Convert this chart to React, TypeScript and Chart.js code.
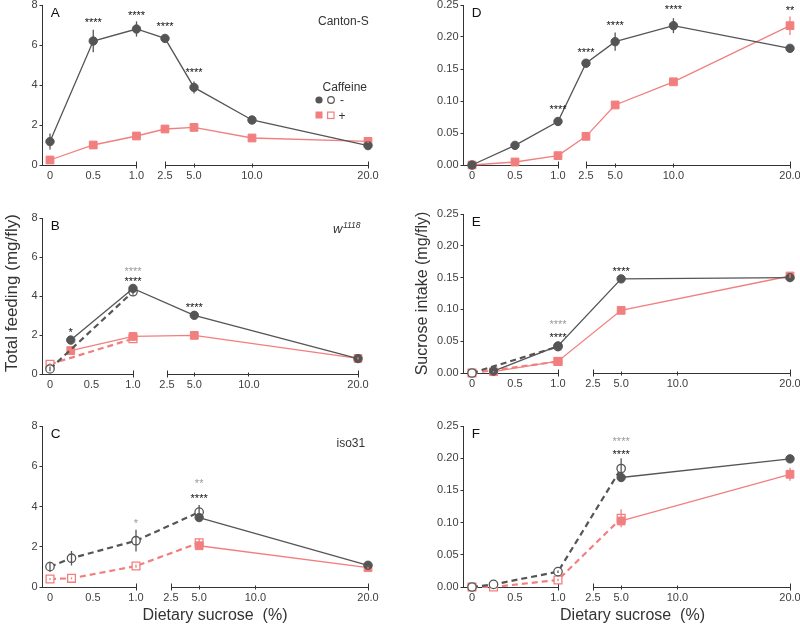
import React, { useEffect, useRef } from "react";
import { Chart, registerables, LinearScale } from "chart.js";

Chart.register(...registerables);

const FONT = '"Liberation Sans", Arial, Helvetica, sans-serif';
const DARK = "#555555";
const PINK = "#f27f7f";
const AXIS = "#333333";
const LABEL = "#404040";

// ---------- axes ----------
const X_TICKS = [0, 0.5, 1, 2.5, 5, 10, 20];
const X_LEFT_END = 1;
const X_RIGHT_START = 2.5;
const X_RIGHT_END = 20;
const FEED_TICKS = [0, 2, 4, 6, 8];
const INTAKE_TICKS = [0, 0.05, 0.1, 0.15, 0.2, 0.25];

// ---------- Panel A : Canton-S, total feeding ----------
const A_X = [0, 0.5, 1, 2.5, 5, 10, 20];
const A_NOCAF = [1.17, 6.2, 6.8, 6.33, 3.88, 2.25, 0.97];
const A_NOCAF_ERR = [0.4, 0.56, 0.38, 0.15, 0.3, 0.06, 0.06];
const A_CAF = [0.25, 1.0, 1.45, 1.8, 1.88, 1.35, 1.18];
const A_CAF_ERR = [0.05, 0.06, 0.08, 0.08, 0.08, 0.06, 0.08];
const A_SIG_X = [0.5, 1, 2.5, 5];
const A_SIG_Y = [7.25, 7.63, 7.08, 4.75];
const A_SIG_TXT = ["****", "****", "****", "****"];
const A_SIG_GREY = [false, false, false, false];

// ---------- Panel D : Canton-S, sucrose intake ----------
const D_X = [0, 0.5, 1, 2.5, 5, 10, 20];
const D_NOCAF = [0, 0.0307, 0.068, 0.159, 0.1927, 0.2177, 0.1823];
const D_NOCAF_ERR = [0, 0.002, 0.003, 0.004, 0.0143, 0.0117, 0.005];
const D_CAF = [0, 0.0047, 0.0146, 0.0448, 0.0938, 0.13, 0.2177];
const D_CAF_ERR = [0, 0.001, 0.002, 0.003, 0.004, 0.003, 0.0145];
const D_SIG_X = [1, 2.5, 5, 10, 20];
const D_SIG_Y = [0.0911, 0.181, 0.2225, 0.247, 0.246];
const D_SIG_TXT = ["****", "****", "****", "****", "**"];
const D_SIG_GREY = [false, false, false, false, false];

// ---------- Panel B : w1118, total feeding ----------
const B_SOLID_X = [0.25, 1, 5, 20];
const B_NOCAF = [1.74, 4.39, 3.01, 0.79];
const B_NOCAF_ERR = [0.1, 0.12, 0.08, 0.06];
const B_CAF = [1.2, 1.93, 1.98, 0.8];
const B_CAF_ERR = [0.08, 0.1, 0.08, 0.06];
const B_DASH_X = [0, 1];
const B_NOCAF_DASH = [0.26, 4.22];
const B_NOCAF_DASH_ERR = [0.12, 0.15];
const B_CAF_DASH = [0.5, 1.81];
const B_CAF_DASH_ERR = [0.08, 0.1];
const B_SIG_X = [0.25, 1, 1, 5];
const B_SIG_Y = [2.29, 4.87, 5.42, 3.54];
const B_SIG_TXT = ["*", "****", "****", "****"];
const B_SIG_GREY = [false, false, true, false];

// ---------- Panel E : w1118, sucrose intake ----------
const E_SOLID_X = [0.25, 1, 5, 20];
const E_NOCAF = [0.003, 0.0425, 0.148, 0.15];
const E_NOCAF_ERR = [0.001, 0.003, 0.003, 0.003];
const E_CAF = [0.002, 0.0185, 0.0985, 0.1525];
const E_CAF_ERR = [0.001, 0.002, 0.003, 0.003];
const E_DASH_X = [0, 1];
const E_NOCAF_DASH = [0, 0.0415];
const E_NOCAF_DASH_ERR = [0, 0.003];
const E_CAF_DASH = [0, 0.018];
const E_CAF_DASH_ERR = [0, 0.002];
const E_SIG_X = [1, 1, 5];
const E_SIG_Y = [0.0807, 0.0608, 0.1646];
const E_SIG_TXT = ["****", "****", "****"];
const E_SIG_GREY = [true, false, false];

// ---------- Panel C : iso31, total feeding ----------
const C_DASH_X = [0, 0.25, 1, 5];
const C_NOCAF_DASH = [1.01, 1.43, 2.3, 3.72];
const C_NOCAF_DASH_ERR = [0.25, 0.36, 0.54, 0.35];
const C_CAF_DASH = [0.4, 0.43, 1.04, 2.2];
const C_CAF_DASH_ERR = [0.05, 0.05, 0.08, 0.2];
const C_SOLID_X = [5, 20];
const C_NOCAF = [3.45, 1.08];
const C_NOCAF_ERR = [0.1, 0.08];
const C_CAF = [2.05, 0.96];
const C_CAF_ERR = [0.1, 0.05];
const C_SIG_X = [1, 5, 5];
const C_SIG_Y = [3.28, 5.27, 4.54];
const C_SIG_TXT = ["*", "**", "****"];
const C_SIG_GREY = [true, true, false];

// ---------- Panel F : iso31, sucrose intake ----------
const F_DASH_X = [0, 0.25, 1, 5];
const F_NOCAF_DASH = [0, 0.004, 0.0238, 0.184];
const F_NOCAF_DASH_ERR = [0, 0, 0.002, 0.016];
const F_CAF_DASH = [0, 0, 0.011, 0.1066];
const F_CAF_DASH_ERR = [0, 0, 0.002, 0.014];
const F_SOLID_X = [5, 20];
const F_NOCAF = [0.17, 0.199];
const F_NOCAF_ERR = [0.006, 0.005];
const F_CAF = [0.1025, 0.175];
const F_CAF_ERR = [0.006, 0.01];
const F_SIG_X = [5, 5];
const F_SIG_Y = [0.2304, 0.2102];
const F_SIG_TXT = ["****", "****"];
const F_SIG_GREY = [true, false];

// ---------- types ----------
interface Series { x: number[]; y: number[]; err: number[]; caf: boolean; dashed: boolean }
interface Sig { x: number[]; y: number[]; txt: string[]; grey: boolean[] }
interface Panel {
  key: string;
  letter: string;
  box: { l: number; t: number; r: number; b: number };
  brk: { p0: number; p1: number; p2: number };
  yTicks: number[];
  yMax: number;
  yDigits: number;
  series: Series[];
  sig: Sig;
}

// ---------- broken x scale ----------
class BrokenScale extends LinearScale {
  static id = "broken";
  static defaults = {};
  frac() {
    const o: any = this.options;
    return { f0: o.brkF0 as number, f1: o.brkF1 as number, f2: o.brkF2 as number };
  }
  getPixelForValue(value: number): number {
    const { f0, f1, f2 } = this.frac();
    const L = this.left, W = this.width;
    if (value <= X_LEFT_END) return L + W * (f0 + (f1 - f0) * (value / X_LEFT_END));
    return L + W * (f2 + (1 - f2) * ((value - X_RIGHT_START) / (X_RIGHT_END - X_RIGHT_START)));
  }
  getValueForPixel(pixel: number): number {
    const { f0, f1, f2 } = this.frac();
    const t = (pixel - this.left) / this.width;
    if (t <= f1) return ((t - f0) / (f1 - f0)) * X_LEFT_END;
    return X_RIGHT_START + ((t - f2) / (1 - f2)) * (X_RIGHT_END - X_RIGHT_START);
  }
}
Chart.register(BrokenScale as any);

// ---------- panels ----------
const S = (x: number[], y: number[], err: number[], caf: boolean, dashed: boolean): Series => ({ x, y, err, caf, dashed });
const G = (x: number[], y: number[], txt: string[], grey: boolean[]): Sig => ({ x, y, txt, grey });

const PANELS: Panel[] = [
  {
    key: "A", letter: "A",
    box: { l: 42.5, t: 5, r: 368, b: 165 }, brk: { p0: 50, p1: 136.5, p2: 165 },
    yTicks: FEED_TICKS, yMax: 8, yDigits: 0,
    series: [S(A_X, A_NOCAF, A_NOCAF_ERR, false, false), S(A_X, A_CAF, A_CAF_ERR, true, false)],
    sig: G(A_SIG_X, A_SIG_Y, A_SIG_TXT, A_SIG_GREY),
  },
  {
    key: "B", letter: "B",
    box: { l: 42.5, t: 218, r: 358, b: 374 }, brk: { p0: 50, p1: 133, p2: 167 },
    yTicks: FEED_TICKS, yMax: 8, yDigits: 0,
    series: [
      S(B_SOLID_X, B_NOCAF, B_NOCAF_ERR, false, false),
      S(B_DASH_X, B_NOCAF_DASH, B_NOCAF_DASH_ERR, false, true),
      S(B_SOLID_X, B_CAF, B_CAF_ERR, true, false),
      S(B_DASH_X, B_CAF_DASH, B_CAF_DASH_ERR, true, true),
    ],
    sig: G(B_SIG_X, B_SIG_Y, B_SIG_TXT, B_SIG_GREY),
  },
  {
    key: "C", letter: "C",
    box: { l: 42.5, t: 426, r: 368, b: 587 }, brk: { p0: 50, p1: 136, p2: 171 },
    yTicks: FEED_TICKS, yMax: 8, yDigits: 0,
    series: [
      S(C_SOLID_X, C_NOCAF, C_NOCAF_ERR, false, false),
      S(C_DASH_X, C_NOCAF_DASH, C_NOCAF_DASH_ERR, false, true),
      S(C_SOLID_X, C_CAF, C_CAF_ERR, true, false),
      S(C_DASH_X, C_CAF_DASH, C_CAF_DASH_ERR, true, true),
    ],
    sig: G(C_SIG_X, C_SIG_Y, C_SIG_TXT, C_SIG_GREY),
  },
  {
    key: "D", letter: "D",
    box: { l: 463.5, t: 5, r: 790, b: 165 }, brk: { p0: 472, p1: 558, p2: 586 },
    yTicks: INTAKE_TICKS, yMax: 0.25, yDigits: 2,
    series: [S(D_X, D_NOCAF, D_NOCAF_ERR, false, false), S(D_X, D_CAF, D_CAF_ERR, true, false)],
    sig: G(D_SIG_X, D_SIG_Y, D_SIG_TXT, D_SIG_GREY),
  },
  {
    key: "E", letter: "E",
    box: { l: 463.5, t: 214, r: 790, b: 373 }, brk: { p0: 472, p1: 558, p2: 593 },
    yTicks: INTAKE_TICKS, yMax: 0.25, yDigits: 2,
    series: [
      S(E_SOLID_X, E_NOCAF, E_NOCAF_ERR, false, false),
      S(E_DASH_X, E_NOCAF_DASH, E_NOCAF_DASH_ERR, false, true),
      S(E_SOLID_X, E_CAF, E_CAF_ERR, true, false),
      S(E_DASH_X, E_CAF_DASH, E_CAF_DASH_ERR, true, true),
    ],
    sig: G(E_SIG_X, E_SIG_Y, E_SIG_TXT, E_SIG_GREY),
  },
  {
    key: "F", letter: "F",
    box: { l: 463.5, t: 426, r: 790, b: 587 }, brk: { p0: 472, p1: 558, p2: 593 },
    yTicks: INTAKE_TICKS, yMax: 0.25, yDigits: 2,
    series: [
      S(F_SOLID_X, F_NOCAF, F_NOCAF_ERR, false, false),
      S(F_DASH_X, F_NOCAF_DASH, F_NOCAF_DASH_ERR, false, true),
      S(F_SOLID_X, F_CAF, F_CAF_ERR, true, false),
      S(F_DASH_X, F_CAF_DASH, F_CAF_DASH_ERR, true, true),
    ],
    sig: G(F_SIG_X, F_SIG_Y, F_SIG_TXT, F_SIG_GREY),
  },
];

const W = 800;
const H = 626;

function text(ctx: CanvasRenderingContext2D, s: string, x: number, y: number, size: number, color: string, align: CanvasTextAlign = "left", style = "") {
  ctx.save();
  ctx.font = `${style} ${size}px ${FONT}`;
  ctx.fillStyle = color;
  ctx.textAlign = align;
  ctx.textBaseline = "alphabetic";
  ctx.fillText(s, x, y);
  ctx.restore();
}

function drawExtras(key: string, ctx: CanvasRenderingContext2D) {
  if (key === "A") {
    text(ctx, "Canton-S", 318, 25, 12, AXIS);
    text(ctx, "Caffeine", 322.5, 91, 12, AXIS);
    ctx.save();
    ctx.fillStyle = DARK;
    ctx.strokeStyle = DARK;
    ctx.lineWidth = 1.2;
    ctx.beginPath(); ctx.arc(319, 100, 3.6, 0, Math.PI * 2); ctx.fill();
    ctx.beginPath(); ctx.arc(331, 100, 3.3, 0, Math.PI * 2); ctx.stroke();
    ctx.fillStyle = PINK;
    ctx.strokeStyle = PINK;
    ctx.fillRect(315.5, 111.5, 7, 7);
    ctx.strokeRect(327.6, 112.1, 6.4, 6.4);
    ctx.restore();
    text(ctx, "-", 340, 104, 12, AXIS);
    text(ctx, "+", 338.5, 119.5, 12, AXIS);
  }
  if (key === "B") {
    ctx.save();
    ctx.font = `italic 13px ${FONT}`;
    const w = ctx.measureText("w").width;
    ctx.restore();
    text(ctx, "w", 333, 232.5, 13, AXIS, "left", "italic");
    text(ctx, "1118", 333 + w + 0.5, 227.5, 8.5, AXIS, "left", "italic");
    ctx.save();
    ctx.translate(16.5, 293);
    ctx.rotate(-Math.PI / 2);
    text(ctx, "Total feeding (mg/fly)", 0, 0, 17, AXIS, "center");
    ctx.restore();
  }
  if (key === "C") {
    text(ctx, "iso31", 336.5, 447, 12, AXIS);
    text(ctx, "Dietary sucrose  (%)", 215, 620, 16, AXIS, "center");
  }
  if (key === "E") {
    ctx.save();
    ctx.translate(427, 293.5);
    ctx.rotate(-Math.PI / 2);
    text(ctx, "Sucrose intake (mg/fly)", 0, 0, 16, AXIS, "center");
    ctx.restore();
  }
  if (key === "F") {
    text(ctx, "Dietary sucrose  (%)", 632.5, 620, 16, AXIS, "center");
  }
}

function makePlugin(p: Panel) {
  return {
    id: "deco" + p.key,
    beforeDatasetsDraw(chart: any) {
      const ctx: CanvasRenderingContext2D = chart.ctx;
      const xs = chart.scales.x;
      const ys = chart.scales.y;
      const yb = Math.round(ys.getPixelForValue(0) - 0.5) + 0.5;
      const pL = xs.getPixelForValue(X_LEFT_END);
      const pR0 = xs.getPixelForValue(X_RIGHT_START);
      const pR1 = xs.getPixelForValue(X_RIGHT_END);
      ctx.save();
      ctx.strokeStyle = AXIS;
      ctx.lineWidth = 1;
      ctx.beginPath();
      ctx.moveTo(chart.chartArea.left, yb);
      ctx.lineTo(pL, yb);
      ctx.moveTo(pR0, yb);
      ctx.lineTo(pR1, yb);
      [pL, pR0, pR1].forEach((px) => {
        const ax = Math.round(px - 0.5) + 0.5;
        ctx.moveTo(ax, yb - 4);
        ctx.lineTo(ax, yb + 3);
      });
      X_TICKS.filter((v) => v > X_RIGHT_START && v < X_RIGHT_END).forEach((v) => {
        const ax = Math.round(xs.getPixelForValue(v) - 0.5) + 0.5;
        ctx.moveTo(ax, yb - 2);
        ctx.lineTo(ax, yb + 2);
      });
      ctx.stroke();
      ctx.restore();
    },
    afterDatasetsDraw(chart: any) {
      const ctx: CanvasRenderingContext2D = chart.ctx;
      const xs = chart.scales.x;
      const ys = chart.scales.y;
      p.series.forEach((s) => {
        ctx.save();
        ctx.strokeStyle = s.caf ? PINK : DARK;
        ctx.lineWidth = 1.3;
        s.x.forEach((xv, i) => {
          const e = s.err[i];
          if (!e) return;
          const px = xs.getPixelForValue(xv);
          ctx.beginPath();
          ctx.moveTo(px, ys.getPixelForValue(s.y[i] - e));
          ctx.lineTo(px, ys.getPixelForValue(s.y[i] + e));
          ctx.stroke();
        });
        ctx.restore();
      });
      // significance marks
      p.sig.x.forEach((xv, i) => {
        const px = xs.getPixelForValue(xv);
        const py = ys.getPixelForValue(p.sig.y[i]);
        text(ctx, p.sig.txt[i], px, py + 6.4, 11, p.sig.grey[i] ? "#9a9a9a" : "#111111", "center");
      });
    },
    afterDraw(chart: any) {
      const ctx: CanvasRenderingContext2D = chart.ctx;
      const ca = chart.chartArea;
      text(ctx, p.letter, ca.left + 8.3, ca.top + 12.3, 13.5, "#111111");
      drawExtras(p.key, ctx);
    },
  };
}

function PanelChart({ p }: { p: Panel }) {
  const ref = useRef<HTMLCanvasElement>(null);
  useEffect(() => {
    const { l, t, r, b } = p.box;
    const span = r - l;
    const tickFont = { family: FONT, size: 11 };
    const chart = new Chart(ref.current as HTMLCanvasElement, {
      type: "line",
      data: {
        datasets: p.series.map((s) => {
          const col = s.caf ? PINK : DARK;
          return {
            data: s.x.map((x, i) => ({ x, y: s.y[i] })),
            borderColor: col,
            backgroundColor: col,
            borderWidth: s.dashed ? 2.2 : 1.3,
            borderDash: s.dashed ? [6, 4] : [],
            pointStyle: s.caf ? "rect" : "circle",
            pointRadius: s.caf ? 5.5 : 4.2,
            pointBackgroundColor: s.dashed ? "#ffffff" : col,
            pointBorderColor: col,
            pointBorderWidth: s.dashed ? 1.3 : 1,
            tension: 0,
            fill: false,
            clip: false,
          } as any;
        }),
      },
      options: {
        responsive: false,
        animation: false,
        devicePixelRatio: 1,
        events: [],
        layout: { autoPadding: false, padding: { left: 0, top: t, right: W - r, bottom: 0 } } as any,
        plugins: { legend: { display: false }, tooltip: { enabled: false } },
        scales: {
          x: {
            type: "broken" as any,
            min: -0.1,
            max: X_RIGHT_END,
            brkF0: (p.brk.p0 - l) / span,
            brkF1: (p.brk.p1 - l) / span,
            brkF2: (p.brk.p2 - l) / span,
            grid: { display: false, drawTicks: false },
            border: { display: false },
            ticks: {
              autoSkip: false,
              maxRotation: 0,
              padding: 4,
              font: tickFont,
              color: LABEL,
              callback: (v: any) => (Number(v) === 0 ? "0" : Number(v).toFixed(1)),
            },
            afterBuildTicks: (s: any) => {
              s.ticks = X_TICKS.map((v) => ({ value: v }));
            },
            afterFit: (s: any) => {
              s.height = H - b;
              s.paddingLeft = 0;
              s.paddingRight = 0;
            },
          } as any,
          y: {
            type: "linear",
            min: 0,
            max: p.yMax,
            grid: { display: true, drawOnChartArea: false, drawTicks: true, tickLength: 3, color: AXIS, lineWidth: 1 },
            border: { display: true, color: AXIS, width: 1 },
            ticks: {
              padding: 2,
              font: tickFont,
              color: LABEL,
              callback: (v: any) => Number(v).toFixed(p.yDigits),
            },
            afterBuildTicks: (s: any) => {
              s.ticks = p.yTicks.map((v) => ({ value: v }));
            },
            afterFit: (s: any) => {
              s.width = l;
              s.paddingTop = 0;
              s.paddingBottom = 0;
            },
          } as any,
        },
      },
      plugins: [makePlugin(p) as any],
    });
    return () => chart.destroy();
  }, [p]);
  return (
    <canvas
      ref={ref}
      width={W}
      height={H}
      style={{ position: "absolute", left: 0, top: 0, width: W, height: H }}
    />
  );
}

export default function App() {
  return (
    <div style={{ position: "absolute", left: 0, top: 0, width: W, height: H, background: "#ffffff", overflow: "hidden" }}>
      {PANELS.map((p) => (
        <PanelChart key={p.key} p={p} />
      ))}
    </div>
  );
}
